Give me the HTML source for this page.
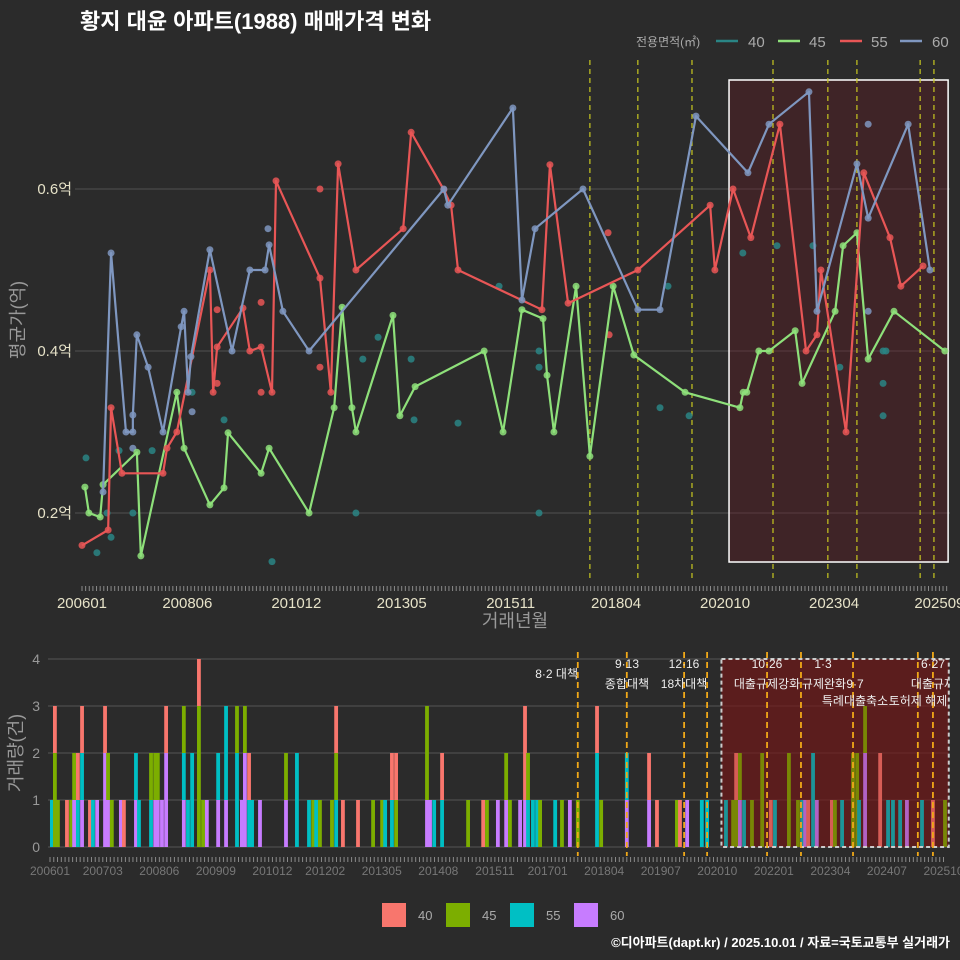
<!DOCTYPE html>
<html><head><meta charset="utf-8"><style>
html,body{margin:0;padding:0;background:#2b2b2b;}
svg{display:block;font-family:"Liberation Sans","Noto Sans CJK KR",sans-serif;}
</style></head><body>
<svg id="chart" width="960" height="960" viewBox="0 0 960 960">
<rect x="0" y="0" width="960" height="960" fill="#2b2b2b"/>
<text x="80" y="29" font-size="22" font-weight="bold" fill="#ffffff">황지 대윤 아파트(1988) 매매가격 변화</text>
<g>
<text x="636" y="46" font-size="12" fill="#aaaaaa">전용면적(㎡)</text>
<line x1="716" y1="41" x2="738" y2="41" stroke="#2a8585" stroke-width="2.5"/>
<text x="748" y="47" font-size="15" fill="#aaaaaa">40</text>
<line x1="778" y1="41" x2="800" y2="41" stroke="#8ee07a" stroke-width="2.5"/>
<text x="809" y="47" font-size="15" fill="#aaaaaa">45</text>
<line x1="840" y1="41" x2="862" y2="41" stroke="#e85656" stroke-width="2.5"/>
<text x="871" y="47" font-size="15" fill="#aaaaaa">55</text>
<line x1="900" y1="41" x2="922" y2="41" stroke="#7f97c0" stroke-width="2.5"/>
<text x="932" y="47" font-size="15" fill="#aaaaaa">60</text>
</g>
<g id="topg"></g>
<g id="botg"></g>
<g>
<rect x="382" y="903" width="24" height="24" fill="#f8766d"/>
<text x="418" y="920" font-size="13" fill="#aaaaaa">40</text>
<rect x="446" y="903" width="24" height="24" fill="#7cae00"/>
<text x="482" y="920" font-size="13" fill="#aaaaaa">45</text>
<rect x="510" y="903" width="24" height="24" fill="#00bfc4"/>
<text x="546" y="920" font-size="13" fill="#aaaaaa">55</text>
<rect x="574" y="903" width="24" height="24" fill="#c77cff"/>
<text x="610" y="920" font-size="13" fill="#aaaaaa">60</text>
</g>
<text x="950" y="947" font-size="13" font-weight="bold" fill="#ffffff" text-anchor="end">©디아파트(dapt.kr) / 2025.10.01 / 자료=국토교통부 실거래가</text>
</svg>
<script>
// ---------- data (months since 2006-01, values in 억) ----------
const s45m=[0.8,1.9,5,5.8,15.1,16.2,26.1,28.1,35.2,39.1,40.2,49.3,51.5,62.5,69.4,71.6,74.3,75.4,85.6,87.5,91.7,110.7,115.9,121.1,126.9,128,129.9,136,139.8,146.2,151.9,166,181.1,182,183,186.3,189.1,196.3,198.2,207.3,209.5,213.3,216.4,223.5,237.5];
const s45v=[.232,.200,.195,.235,.275,.147,.349,.280,.210,.231,.299,.249,.280,.200,.330,.454,.330,.300,.444,.320,.356,.400,.300,.451,.440,.370,.300,.480,.270,.480,.395,.349,.330,.349,.349,.400,.400,.425,.360,.449,.530,.546,.390,.449,.400];
const s55m=[0,7.2,8,11,22.3,23.4,26.1,35.2,36.1,37.2,44.3,46.2,49.3,52.3,53.4,65.5,68.5,70.5,75.4,88.4,90.6,99.6,101.6,103.5,126.6,128.8,133.8,153,172.9,174.2,179.2,184.1,192.1,199.3,202.3,203.4,210.3,215.2,222.4,225.4,231.5];
const s55v=[.160,.179,.330,.249,.249,.280,.300,.500,.349,.405,.453,.400,.405,.349,.610,.490,.349,.631,.500,.551,.670,.599,.580,.500,.451,.630,.459,.500,.580,.500,.600,.540,.680,.400,.420,.500,.300,.620,.540,.480,.505];
const s55xm=[65.5,49.3,49.3,37.2,37.2,65.5,144.8,145.1];
const s55xv=[.600,.460,.349,.451,.360,.380,.546,.420];
const s60m=[5.8,8,12.1,14,14,15.1,18.2,22.3,27.3,28.1,29.2,30,35.2,41.3,46.2,50.4,51.5,55.3,62.5,99.6,100.7,118.6,121.1,124.7,137.9,153,159.1,169,183.3,189.1,200.1,202.3,213.3,216.4,227.4,233.4];
const s60v=[.226,.521,.300,.300,.321,.420,.380,.300,.430,.449,.349,.393,.525,.400,.500,.500,.531,.449,.400,.600,.580,.700,.463,.551,.600,.451,.451,.690,.620,.680,.720,.449,.631,.564,.680,.500];
const s60xm=[51.2,30.3,14,216.4,216.4];
const s60xv=[.551,.325,.280,.680,.449];
const s40m=[1.1,4.1,6.9,8,10.2,14,19.3,30.3,39.1,52.3,75.4,77.3,81.5,90.6,91.4,103.5,114.8,125.8,125.8,125.8,161.3,159.1,167.1,181.9,191.3,201.2,208.6,220.5,221.3,220.5,220.5];
const s40v=[.268,.151,.200,.170,.277,.200,.277,.349,.315,.140,.200,.390,.417,.390,.315,.311,.480,.400,.380,.200,.480,.330,.320,.521,.530,.530,.380,.400,.400,.360,.320];
const topTickLabels=["200601","200806","201012","201305","201511","201804","202010","202304","202509"];
const topYTicks=[0.2,0.4,0.6];
const topPolicy=[139.8,153,167.9,190.2,205.3,213.3,230.7,234.5];
const highlightRange=[178.1,238.4];
const barMonths=[0.5,1.3,2.1,4.5,5.6,6.4,7.4,8.5,10.6,11.4,12.5,14.6,15.4,16.4,18.8,19.6,22.8,23.6,26.8,27.9,28.6,29.7,30.8,35.5,36.6,37.7,39.5,40.6,41.6,44.6,46.7,49.6,50.9,51.7,52.8,53.6,55.7,62.6,65.5,68.7,69.8,70.6,71.6,74.8,75.9,77.7,81.7,85.7,88.1,88.9,90.7,91.8,100,100.8,101.9,104,110.9,114.9,115.9,118.8,121,122,124.7,126,126.8,128.1,129.2,130,134,135.8,137.9,140,145.1,146.2,153,158.9,161,166.3,167.1,169,172.9,174.3,179.3,181.2,182,183,184.1,186.2,188.9,191.2,192.3,196,198.4,199.5,200.3,201.1,202.4,203.4,207.4,208.2,210.1,213,214.1,214.6,216.2,220.2,222.3,223.6,225.5,227.3,231.3,234.2,237.4];
const barStacks=["c","ggr","g","r","g","pg","cr","pcr","r","c","p","ppr","pg","g","p","r","pc","c","cg","pg","pg","p","ppr","pcg","c","cc","gggr","g","p","pc","pcc","ccg","p","ppg","cr","c","p","pg","cc","c","g","c","g","g","cgr","r","r","g","g","c","cr","gr","pgg","p","c","cr","g","r","g","p","pg","g","p","prr","cg","c","c","g","c","g","p","g","ccr","g","pc","pr","r","g","r","p","c","c","c","g","gr","pg","c","g","gg","r","c","gg","g","c","p","r","cc","p","r","g","c","gg","gg","c","ppg","rr","c","c","c","p","c","r","g"];
const botTickLabels=["200601","200703","200806","200909","201012","201202","201305","201408","201511","201701","201804","201907","202010","202201","202304","202407","202510"];
const botYTicks=[0,1,2,3,4];
const botPolicy=[140,153,168.2,174.3,190.2,199.2,213,230.2,234.2];
const notes=[["8·2 대책",578,678,"end"],["9·13",627,668,"middle"],["종합대책",627,688,"middle"],["12·16",684,668,"middle"],["18차대책",684,688,"middle"],["10·26",767,668,"middle"],["대출규제강화",767,688,"middle"],["1·3",823,668,"middle"],["규제완화",824,688,"middle"],["9·7",855,688,"middle"],["특례대출축소",855,705,"middle"],["토허제 해제",918,705,"middle"],["6·27",933,668,"middle"],["대출규제",933,688,"middle"]];

// ---------- helpers ----------
const NS="http://www.w3.org/2000/svg";
function mk(tag,attrs,parent){const e=document.createElementNS(NS,tag);for(const k in attrs)e.setAttribute(k,attrs[k]);parent.appendChild(e);return e;}
function ym(s){return (parseInt(s.slice(0,4))-2006)*12+parseInt(s.slice(4,6))-1;}
const xT=m=>82+m*3.633, yT=v=>513-(v-0.2)*810;
const xB=m=>50+m*3.77, yB=c=>847-c*47;
const topG=document.getElementById('topg'), botG=document.getElementById('botg');

// ---------- top chart ----------
topYTicks.forEach(v=>{
 const l=mk('line',{x1:75,x2:950,y1:yT(v),y2:yT(v),stroke:'#505050','stroke-width':1},topG);
 
 
 const t=mk('text',{x:72,y:yT(v)+5,'font-size':15,fill:'#e6e2c8','text-anchor':'end'},topG);
 t.textContent=v.toFixed(1)+'억';
 
 
});
for(let m=0;m<=238;m++){
 const l=mk('line',{x1:xT(m),x2:xT(m),y1:586,y2:591,stroke:'#8a8a8a','stroke-width':1},topG);
 
 
}
topTickLabels.forEach(s=>{
 const t=mk('text',{x:xT(ym(s)),y:608,'font-size':15,fill:'#e6e2c8','text-anchor':'middle'},topG);
 t.textContent=s;
 
 
});
let tt=mk('text',{x:515,y:627,'font-size':18,fill:'#999999','text-anchor':'middle'},topG);tt.textContent='거래년월';


tt=mk('text',{x:0,y:0,'font-size':18,fill:'#999999','text-anchor':'middle',transform:'translate(24,320) rotate(-90)'},topG);tt.textContent='평균가(억)';


let hb=mk('rect',{x:xT(highlightRange[0]),y:80,width:xT(highlightRange[1])-xT(highlightRange[0]),height:482,fill:'rgba(110,20,30,0.3)',stroke:'#ffffff','stroke-width':1.5},topG);


topPolicy.forEach(m=>{
 const l=mk('line',{x1:xT(m),x2:xT(m),y1:60,y2:580,stroke:'#c8c820','stroke-width':1.2,'stroke-dasharray':'5,4'},topG);
 
 
});
function series(ms,vs,color,name,line){
 if(line){
  const p=mk('polyline',{points:ms.map((m,i)=>xT(m)+','+yT(vs[i])).join(' '),fill:'none',stroke:color,'stroke-width':2.2,'stroke-linejoin':'round'},topG);
  
  
 }
 ms.forEach((m,i)=>{
  const c=mk('circle',{cx:xT(m),cy:yT(vs[i]),r:3.5,fill:color,opacity:0.85},topG);
  
  
 });
}
series(s40m,s40v,'#2a8585','40',false);
series(s60xm,s60xv,'#7f97c0','60',false);
series(s55xm,s55xv,'#e85656','55',false);
series(s45m,s45v,'#8ee07a','45',true);
series(s55m,s55v,'#e85656','55',true);
series(s60m,s60v,'#7f97c0','60',true);

// ---------- bottom chart ----------
const defs=mk('defs',{},botG);
const cp=mk('clipPath',{id:'bclip'},defs);mk('rect',{x:40,y:640,width:908,height:230},cp);
botYTicks.forEach(c=>{
 const l=mk('line',{x1:48,x2:948,y1:yB(c),y2:yB(c),stroke:'#555555','stroke-width':1},botG);
 
 
 const t=mk('text',{x:40,y:yB(c)+5,'font-size':14,fill:'#999999','text-anchor':'end'},botG);
 t.textContent=c;
 
 
});
tt=mk('text',{x:0,y:0,'font-size':18,fill:'#999999','text-anchor':'middle',transform:'translate(22,753) rotate(-90)'},botG);tt.textContent='거래량(건)';


let bf=mk('rect',{x:xB(highlightRange[0]),y:659,width:xB(highlightRange[1])-xB(highlightRange[0]),height:188,fill:'rgba(120,25,25,0.55)'},botG);


const colors={r:'#f8766d',g:'#7cae00',c:'#00bfc4',p:'#c77cff'};
barMonths.forEach((m,i)=>{
 const st=barStacks[i]||'';
 for(let k=0;k<st.length;k++){
  const r=mk('rect',{x:xB(m)-1.9,y:yB(k+1),width:3.8,height:47,fill:colors[st[k]]},botG);
  
  
 }
});
let bb=mk('rect',{x:xB(highlightRange[0]),y:659,width:xB(highlightRange[1])-xB(highlightRange[0]),height:188,fill:'rgba(110,20,20,0.25)',stroke:'#cccccc','stroke-width':2,'stroke-dasharray':'4,3'},botG);


botPolicy.forEach(m=>{
 const l=mk('line',{x1:xB(m),x2:xB(m),y1:652,y2:856,stroke:'#f0a818','stroke-width':1.8,'stroke-dasharray':'6,4'},botG);
 
 
});
const ng=mk('g',{'clip-path':'url(#bclip)'},botG);
notes.forEach(n=>{
 const t=mk('text',{x:n[1],y:n[2],'font-size':12,fill:'#eeeeee','text-anchor':n[3]},ng);
 t.textContent=n[0];
 
 
});
for(let m=0;m<=237;m++){
 const l=mk('line',{x1:xB(m),x2:xB(m),y1:857,y2:862,stroke:'#8a8a8a','stroke-width':1},botG);
 
 
}
botTickLabels.forEach(s=>{
 const t=mk('text',{x:xB(ym(s)),y:875,'font-size':12,fill:'#777777','text-anchor':'middle'},botG);
 t.textContent=s;
 
 
});
</script>
</body></html>
